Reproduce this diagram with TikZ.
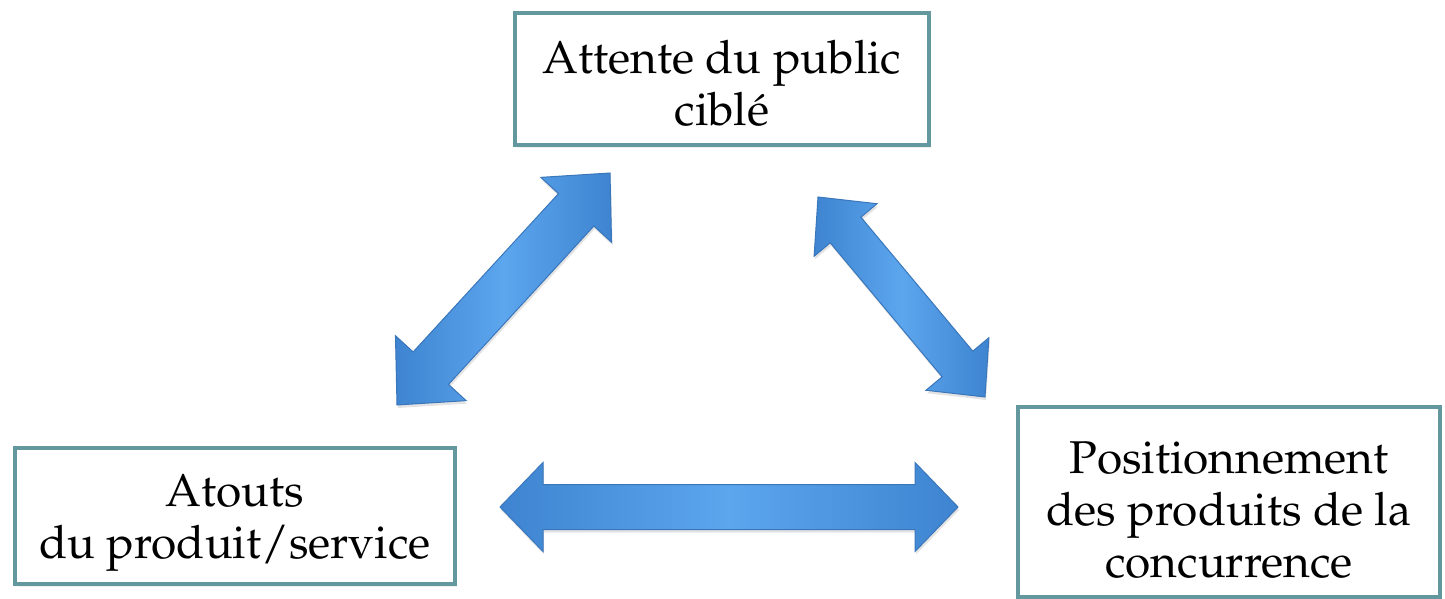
\documentclass[tikz,border=0pt]{standalone}
\usepackage[T1]{fontenc}
\usepackage{mathpazo}
\usetikzlibrary{calc,shadows}
\definecolor{boxline}{RGB}{98,152,158}
\definecolor{arrdark}{RGB}{62,132,208}
\definecolor{arrlight}{RGB}{92,166,238}
\definecolor{arredge}{RGB}{58,118,186}
% #1 start, #2 end, #3 half body width, #4 half head width, #5 head length
\newcommand\dblarrow[5]{%
  \path[arrowstyle]
    (#1)
    -- ($(#1)!#5!(#2)!#4!90:(#2)$)
    -- ($(#1)!#5!(#2)!#3!90:(#2)$)
    -- ($(#2)!#5!(#1)!#3!-90:(#1)$)
    -- ($(#2)!#5!(#1)!#4!-90:(#1)$)
    -- (#2)
    -- ($(#2)!#5!(#1)!#4!90:(#1)$)
    -- ($(#2)!#5!(#1)!#3!90:(#1)$)
    -- ($(#1)!#5!(#2)!#3!-90:(#2)$)
    -- ($(#1)!#5!(#2)!#4!-90:(#2)$)
    -- cycle;}
\begin{document}
\begin{tikzpicture}[x=1pt,y=-1pt,
  boxstyle/.style={draw=boxline, line width=4pt, fill=white, align=center,
    font=\fontsize{46}{52}\selectfont, inner sep=0pt, text depth=10pt,
    drop shadow={opacity=0.12, shadow xshift=2pt, shadow yshift=-3pt}},
  arrowstyle/.style={draw=arredge, line width=1pt, left color=arrdark,
    right color=arrdark, middle color=arrlight,
    drop shadow={opacity=0.22, shadow xshift=1pt, shadow yshift=-3pt}}]
\useasboundingbox (0,0) rectangle (1445,599);

\coordinate (L1) at (397,405); \coordinate (L2) at (610,173);
\coordinate (R1) at (818,197); \coordinate (R2) at (985,397);
\coordinate (H1) at (500,507); \coordinate (H2) at (958,507);

\dblarrow{L1}{L2}{24pt}{48pt}{50pt}
\dblarrow{R1}{R2}{20pt}{41pt}{43pt}
\dblarrow{H1}{H2}{22.5pt}{44.5pt}{43pt}

\node[boxstyle, minimum width=414pt, minimum height=132pt, text height=104pt]
  (top) at (722,79) {Attente du public\\cibl\'e};
\node[boxstyle, minimum width=440pt, minimum height=136pt, text height=94pt]
  (left) at (235,516) {Atouts\\du produit/service};
\node[boxstyle, minimum width=422pt, minimum height=190pt, text height=160pt]
  (right) at (1229,502) {Positionnement\\des produits de la\\concurrence};
\end{tikzpicture}
\end{document}
